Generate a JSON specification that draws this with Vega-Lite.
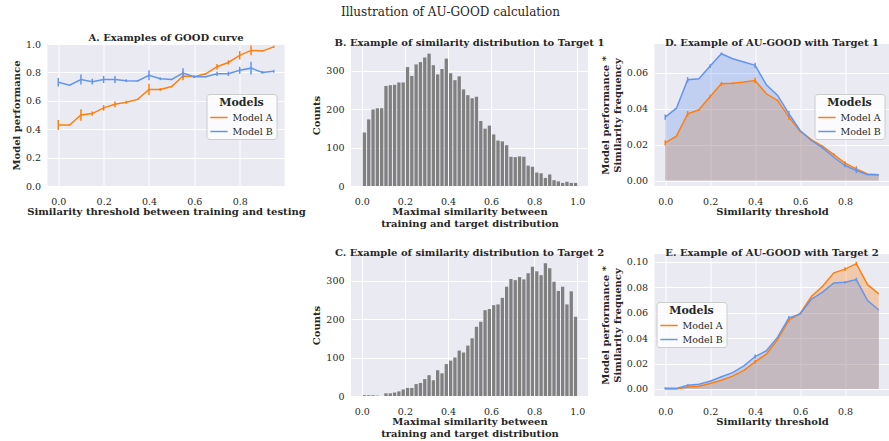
{
  "$schema": "https://vega.github.io/schema/vega-lite/v6.json",
  "padding": {"left": 10.5, "top": 6, "right": 1, "bottom": 0},
  "title": {"text": "Illustration of AU-GOOD calculation", "font": "DejaVu Serif", "fontSize": 12, "fontWeight": "normal", "color": "#262626", "anchor": "middle", "frame": "bounds", "offset": 14},
  "config": {
    "font": "DejaVu Serif",
    "view": {"fill": "#EAEAF2", "stroke": null},
    "axis": {"domain": false, "ticks": false, "grid": true, "gridColor": "#ffffff", "gridWidth": 1, "labelFont": "DejaVu Serif", "labelFontSize": 9.5, "labelColor": "#262626", "titleFont": "DejaVu Serif", "titleFontSize": 10, "titleFontWeight": "bold", "titleColor": "#262626", "titleLineHeight": 12},
    "axisX": {"labelPadding": 10, "titlePadding": 1},
    "axisY": {"labelPadding": 7, "titlePadding": 4},
    "title": {"font": "DejaVu Serif", "fontSize": 10, "fontWeight": "bold", "color": "#262626", "offset": -4},
    "legend": {"titleFont": "DejaVu Serif", "labelFont": "DejaVu Serif", "titleFontSize": 11, "titleFontWeight": "bold", "titleColor": "#262626", "titleAnchor": "middle", "labelFontSize": 9.5, "labelColor": "#262626", "symbolType": "stroke", "symbolStrokeWidth": 1.5, "symbolSize": 300, "fillColor": "rgba(255,255,255,0.8)", "strokeColor": "#cccccc", "cornerRadius": 3, "padding": 3, "rowPadding": -1.5, "titlePadding": 0}
  },
  "datasets": {
    "good": [
      {"x": 0, "m": "Model A", "y": 0.43, "e": 0.035},
      {"x": 0.05, "m": "Model A", "y": 0.43, "e": 0.005},
      {"x": 0.1, "m": "Model A", "y": 0.5, "e": 0.04},
      {"x": 0.15, "m": "Model A", "y": 0.51, "e": 0.015},
      {"x": 0.2, "m": "Model A", "y": 0.55, "e": 0.02},
      {"x": 0.25, "m": "Model A", "y": 0.575, "e": 0.02},
      {"x": 0.3, "m": "Model A", "y": 0.59, "e": 0.01},
      {"x": 0.35, "m": "Model A", "y": 0.61, "e": 0.005},
      {"x": 0.4, "m": "Model A", "y": 0.68, "e": 0.04},
      {"x": 0.45, "m": "Model A", "y": 0.68, "e": 0.01},
      {"x": 0.5, "m": "Model A", "y": 0.7, "e": 0.005},
      {"x": 0.55, "m": "Model A", "y": 0.775, "e": 0.03},
      {"x": 0.6, "m": "Model A", "y": 0.77, "e": 0.005},
      {"x": 0.65, "m": "Model A", "y": 0.79, "e": 0.005},
      {"x": 0.7, "m": "Model A", "y": 0.84, "e": 0.02},
      {"x": 0.75, "m": "Model A", "y": 0.87, "e": 0.015},
      {"x": 0.8, "m": "Model A", "y": 0.92, "e": 0.03},
      {"x": 0.85, "m": "Model A", "y": 0.955, "e": 0.035},
      {"x": 0.9, "m": "Model A", "y": 0.95, "e": 0.005},
      {"x": 0.95, "m": "Model A", "y": 0.98, "e": 0.008},
      {"x": 0, "m": "Model B", "y": 0.73, "e": 0.03},
      {"x": 0.05, "m": "Model B", "y": 0.71, "e": 0.005},
      {"x": 0.1, "m": "Model B", "y": 0.75, "e": 0.035},
      {"x": 0.15, "m": "Model B", "y": 0.735, "e": 0.02},
      {"x": 0.2, "m": "Model B", "y": 0.75, "e": 0.025},
      {"x": 0.25, "m": "Model B", "y": 0.75, "e": 0.025},
      {"x": 0.3, "m": "Model B", "y": 0.742, "e": 0.01},
      {"x": 0.35, "m": "Model B", "y": 0.74, "e": 0.005},
      {"x": 0.4, "m": "Model B", "y": 0.78, "e": 0.035},
      {"x": 0.45, "m": "Model B", "y": 0.755, "e": 0.01},
      {"x": 0.5, "m": "Model B", "y": 0.75, "e": 0.005},
      {"x": 0.55, "m": "Model B", "y": 0.795, "e": 0.035},
      {"x": 0.6, "m": "Model B", "y": 0.77, "e": 0.01},
      {"x": 0.65, "m": "Model B", "y": 0.77, "e": 0.005},
      {"x": 0.7, "m": "Model B", "y": 0.79, "e": 0.015},
      {"x": 0.75, "m": "Model B", "y": 0.79, "e": 0.015},
      {"x": 0.8, "m": "Model B", "y": 0.815, "e": 0.025},
      {"x": 0.85, "m": "Model B", "y": 0.83, "e": 0.045},
      {"x": 0.9, "m": "Model B", "y": 0.8, "e": 0.01},
      {"x": 0.95, "m": "Model B", "y": 0.808, "e": 0.01}
    ],
    "hist1": [
      {"b": 0.00, "b2": 0.02, "n": 139}, {"b": 0.02, "b2": 0.04, "n": 173}, {"b": 0.04, "b2": 0.06, "n": 199}, {"b": 0.06, "b2": 0.08, "n": 202}, {"b": 0.08, "b2": 0.10, "n": 202},
      {"b": 0.10, "b2": 0.12, "n": 260}, {"b": 0.12, "b2": 0.14, "n": 262}, {"b": 0.14, "b2": 0.16, "n": 263}, {"b": 0.16, "b2": 0.18, "n": 269}, {"b": 0.18, "b2": 0.20, "n": 269},
      {"b": 0.20, "b2": 0.22, "n": 309}, {"b": 0.22, "b2": 0.24, "n": 286}, {"b": 0.24, "b2": 0.26, "n": 316}, {"b": 0.26, "b2": 0.28, "n": 322}, {"b": 0.28, "b2": 0.30, "n": 334},
      {"b": 0.30, "b2": 0.32, "n": 344}, {"b": 0.32, "b2": 0.34, "n": 314}, {"b": 0.34, "b2": 0.36, "n": 290}, {"b": 0.36, "b2": 0.38, "n": 304}, {"b": 0.38, "b2": 0.40, "n": 331},
      {"b": 0.40, "b2": 0.42, "n": 293}, {"b": 0.42, "b2": 0.44, "n": 275}, {"b": 0.44, "b2": 0.46, "n": 285}, {"b": 0.46, "b2": 0.48, "n": 251}, {"b": 0.48, "b2": 0.50, "n": 236},
      {"b": 0.50, "b2": 0.52, "n": 228}, {"b": 0.52, "b2": 0.54, "n": 232}, {"b": 0.54, "b2": 0.56, "n": 169}, {"b": 0.56, "b2": 0.58, "n": 149}, {"b": 0.58, "b2": 0.60, "n": 157},
      {"b": 0.60, "b2": 0.62, "n": 134}, {"b": 0.62, "b2": 0.64, "n": 118}, {"b": 0.64, "b2": 0.66, "n": 116}, {"b": 0.66, "b2": 0.68, "n": 106}, {"b": 0.68, "b2": 0.70, "n": 76},
      {"b": 0.70, "b2": 0.72, "n": 75}, {"b": 0.72, "b2": 0.74, "n": 77}, {"b": 0.74, "b2": 0.76, "n": 76}, {"b": 0.76, "b2": 0.78, "n": 53}, {"b": 0.78, "b2": 0.80, "n": 50},
      {"b": 0.80, "b2": 0.82, "n": 35}, {"b": 0.82, "b2": 0.84, "n": 33}, {"b": 0.84, "b2": 0.86, "n": 21}, {"b": 0.86, "b2": 0.88, "n": 30}, {"b": 0.88, "b2": 0.90, "n": 15},
      {"b": 0.90, "b2": 0.92, "n": 12}, {"b": 0.92, "b2": 0.94, "n": 8}, {"b": 0.94, "b2": 0.96, "n": 11}, {"b": 0.96, "b2": 0.98, "n": 8}, {"b": 0.98, "b2": 1.00, "n": 8}
    ],
    "hist2": [
      {"b": 0.00, "b2": 0.02, "n": 2}, {"b": 0.02, "b2": 0.04, "n": 2}, {"b": 0.04, "b2": 0.06, "n": 2}, {"b": 0.06, "b2": 0.08, "n": 1}, {"b": 0.08, "b2": 0.10, "n": 0},
      {"b": 0.10, "b2": 0.12, "n": 7}, {"b": 0.12, "b2": 0.14, "n": 7}, {"b": 0.14, "b2": 0.16, "n": 9}, {"b": 0.16, "b2": 0.18, "n": 12}, {"b": 0.18, "b2": 0.20, "n": 17},
      {"b": 0.20, "b2": 0.22, "n": 21}, {"b": 0.22, "b2": 0.24, "n": 21}, {"b": 0.24, "b2": 0.26, "n": 31}, {"b": 0.26, "b2": 0.28, "n": 34}, {"b": 0.28, "b2": 0.30, "n": 44},
      {"b": 0.30, "b2": 0.32, "n": 54}, {"b": 0.32, "b2": 0.34, "n": 41}, {"b": 0.34, "b2": 0.36, "n": 67}, {"b": 0.36, "b2": 0.38, "n": 59}, {"b": 0.38, "b2": 0.40, "n": 83},
      {"b": 0.40, "b2": 0.42, "n": 92}, {"b": 0.42, "b2": 0.44, "n": 100}, {"b": 0.44, "b2": 0.46, "n": 118}, {"b": 0.46, "b2": 0.48, "n": 113}, {"b": 0.48, "b2": 0.50, "n": 131},
      {"b": 0.50, "b2": 0.52, "n": 150}, {"b": 0.52, "b2": 0.54, "n": 180}, {"b": 0.54, "b2": 0.56, "n": 193}, {"b": 0.56, "b2": 0.58, "n": 223}, {"b": 0.58, "b2": 0.60, "n": 226},
      {"b": 0.60, "b2": 0.62, "n": 236}, {"b": 0.62, "b2": 0.64, "n": 238}, {"b": 0.64, "b2": 0.66, "n": 255}, {"b": 0.66, "b2": 0.68, "n": 284}, {"b": 0.68, "b2": 0.70, "n": 304},
      {"b": 0.70, "b2": 0.72, "n": 301}, {"b": 0.72, "b2": 0.74, "n": 309}, {"b": 0.74, "b2": 0.76, "n": 303}, {"b": 0.76, "b2": 0.78, "n": 319}, {"b": 0.78, "b2": 0.80, "n": 336},
      {"b": 0.80, "b2": 0.82, "n": 324}, {"b": 0.82, "b2": 0.84, "n": 314}, {"b": 0.84, "b2": 0.86, "n": 345}, {"b": 0.86, "b2": 0.88, "n": 332}, {"b": 0.88, "b2": 0.90, "n": 297},
      {"b": 0.90, "b2": 0.92, "n": 273}, {"b": 0.92, "b2": 0.94, "n": 284}, {"b": 0.94, "b2": 0.96, "n": 238}, {"b": 0.96, "b2": 0.98, "n": 272}, {"b": 0.98, "b2": 1.00, "n": 206}
    ],
    "au1": [
      {"x": 0, "m": "Model A", "y": 0.021, "e": 0.0015},
      {"x": 0.05, "m": "Model A", "y": 0.0247, "e": 0},
      {"x": 0.1, "m": "Model A", "y": 0.0372, "e": 0.0015},
      {"x": 0.15, "m": "Model A", "y": 0.0394, "e": 0.0005},
      {"x": 0.2, "m": "Model A", "y": 0.0468, "e": 0.001},
      {"x": 0.25, "m": "Model A", "y": 0.0539, "e": 0.001},
      {"x": 0.3, "m": "Model A", "y": 0.0542, "e": 0.0005},
      {"x": 0.35, "m": "Model A", "y": 0.0548, "e": 0},
      {"x": 0.4, "m": "Model A", "y": 0.0557, "e": 0.0015},
      {"x": 0.45, "m": "Model A", "y": 0.0483, "e": 0},
      {"x": 0.5, "m": "Model A", "y": 0.0446, "e": 0.0005},
      {"x": 0.55, "m": "Model A", "y": 0.0353, "e": 0.0015},
      {"x": 0.6, "m": "Model A", "y": 0.0275, "e": 0},
      {"x": 0.65, "m": "Model A", "y": 0.0228, "e": 0.0003},
      {"x": 0.7, "m": "Model A", "y": 0.0191, "e": 0.0005},
      {"x": 0.75, "m": "Model A", "y": 0.0145, "e": 0.0007},
      {"x": 0.8, "m": "Model A", "y": 0.0097, "e": 0.001},
      {"x": 0.85, "m": "Model A", "y": 0.0065, "e": 0.0015},
      {"x": 0.9, "m": "Model A", "y": 0.0037, "e": 0},
      {"x": 0.95, "m": "Model A", "y": 0.0033, "e": 0},
      {"x": 0, "m": "Model B", "y": 0.0353, "e": 0.0015},
      {"x": 0.05, "m": "Model B", "y": 0.0403, "e": 0},
      {"x": 0.1, "m": "Model B", "y": 0.0561, "e": 0.0015},
      {"x": 0.15, "m": "Model B", "y": 0.0567, "e": 0},
      {"x": 0.2, "m": "Model B", "y": 0.0637, "e": 0.001},
      {"x": 0.25, "m": "Model B", "y": 0.0706, "e": 0.0007},
      {"x": 0.3, "m": "Model B", "y": 0.0678, "e": 0},
      {"x": 0.35, "m": "Model B", "y": 0.066, "e": 0},
      {"x": 0.4, "m": "Model B", "y": 0.0641, "e": 0.0015},
      {"x": 0.45, "m": "Model B", "y": 0.0533, "e": 0},
      {"x": 0.5, "m": "Model B", "y": 0.0474, "e": 0},
      {"x": 0.55, "m": "Model B", "y": 0.0372, "e": 0.0015},
      {"x": 0.6, "m": "Model B", "y": 0.0279, "e": 0},
      {"x": 0.65, "m": "Model B", "y": 0.0223, "e": 0},
      {"x": 0.7, "m": "Model B", "y": 0.0182, "e": 0.0007},
      {"x": 0.75, "m": "Model B", "y": 0.013, "e": 0},
      {"x": 0.8, "m": "Model B", "y": 0.0084, "e": 0.001},
      {"x": 0.85, "m": "Model B", "y": 0.0056, "e": 0.0015},
      {"x": 0.9, "m": "Model B", "y": 0.0033, "e": 0},
      {"x": 0.95, "m": "Model B", "y": 0.0032, "e": 0}
    ],
    "au2": [
      {"x": 0, "m": "Model A", "y": 0.0, "e": 0},
      {"x": 0.05, "m": "Model A", "y": 0.0, "e": 0},
      {"x": 0.1, "m": "Model A", "y": 0.0016, "e": 0.0005},
      {"x": 0.15, "m": "Model A", "y": 0.0021, "e": 0},
      {"x": 0.2, "m": "Model A", "y": 0.0043, "e": 0},
      {"x": 0.25, "m": "Model A", "y": 0.0069, "e": 0},
      {"x": 0.3, "m": "Model A", "y": 0.0101, "e": 0},
      {"x": 0.35, "m": "Model A", "y": 0.0146, "e": 0},
      {"x": 0.4, "m": "Model A", "y": 0.0213, "e": 0.0015},
      {"x": 0.45, "m": "Model A", "y": 0.0274, "e": 0},
      {"x": 0.5, "m": "Model A", "y": 0.0388, "e": 0},
      {"x": 0.55, "m": "Model A", "y": 0.054, "e": 0.0015},
      {"x": 0.6, "m": "Model A", "y": 0.0593, "e": 0},
      {"x": 0.65, "m": "Model A", "y": 0.0726, "e": 0},
      {"x": 0.7, "m": "Model A", "y": 0.0806, "e": 0},
      {"x": 0.75, "m": "Model A", "y": 0.0912, "e": 0},
      {"x": 0.8, "m": "Model A", "y": 0.0941, "e": 0.0015},
      {"x": 0.85, "m": "Model A", "y": 0.0984, "e": 0.0015},
      {"x": 0.9, "m": "Model A", "y": 0.0819, "e": 0},
      {"x": 0.95, "m": "Model A", "y": 0.0747, "e": 0},
      {"x": 0, "m": "Model B", "y": 0.0005, "e": 0.0008},
      {"x": 0.05, "m": "Model B", "y": 0.0005, "e": 0},
      {"x": 0.1, "m": "Model B", "y": 0.0029, "e": 0.0008},
      {"x": 0.15, "m": "Model B", "y": 0.0037, "e": 0},
      {"x": 0.2, "m": "Model B", "y": 0.0061, "e": 0.0005},
      {"x": 0.25, "m": "Model B", "y": 0.0096, "e": 0.0005},
      {"x": 0.3, "m": "Model B", "y": 0.0128, "e": 0},
      {"x": 0.35, "m": "Model B", "y": 0.0181, "e": 0},
      {"x": 0.4, "m": "Model B", "y": 0.0255, "e": 0.0015},
      {"x": 0.45, "m": "Model B", "y": 0.03, "e": 0},
      {"x": 0.5, "m": "Model B", "y": 0.0407, "e": 0},
      {"x": 0.55, "m": "Model B", "y": 0.0559, "e": 0.0015},
      {"x": 0.6, "m": "Model B", "y": 0.0588, "e": 0},
      {"x": 0.65, "m": "Model B", "y": 0.0705, "e": 0},
      {"x": 0.7, "m": "Model B", "y": 0.0761, "e": 0},
      {"x": 0.75, "m": "Model B", "y": 0.0832, "e": 0},
      {"x": 0.8, "m": "Model B", "y": 0.0838, "e": 0.001},
      {"x": 0.85, "m": "Model B", "y": 0.0859, "e": 0.0015},
      {"x": 0.9, "m": "Model B", "y": 0.0694, "e": 0},
      {"x": 0.95, "m": "Model B", "y": 0.062, "e": 0}
    ]
  },
  "bounds": "flush",
  "columns": 3,
  "spacing": {"row": 68, "column": 66.5},
  "resolve": {"scale": {"color": "independent"}, "legend": {"color": "independent"}},
  "concat": [
    {
      "width": 237, "height": 142,
      "title": "A. Examples of GOOD curve",
      "data": {"name": "good"},
      "encoding": {
        "x": {"field": "x", "type": "quantitative", "scale": {"domain": [-0.0475, 0.9975], "nice": false, "zero": false}, "axis": {"values": [0, 0.2, 0.4, 0.6, 0.8], "format": ".1f", "title": "Similarity threshold between training and testing"}},
        "y": {"field": "y", "type": "quantitative", "scale": {"domain": [0, 1], "nice": false}, "axis": {"values": [0, 0.2, 0.4, 0.6, 0.8, 1.0], "format": ".1f", "title": "Model performance"}},
        "color": {"field": "m", "type": "nominal", "scale": {"domain": ["Model A", "Model B"], "range": ["#ff7f0e", "#6495ed"]}, "legend": {"title": "Models", "orient": "none", "legendX": 159, "legendY": 50}}
      },
      "layer": [
        {"mark": {"type": "line", "strokeWidth": 1.5}},
        {"mark": {"type": "errorbar", "thickness": 1.5}, "encoding": {"yError": {"field": "e"}}}
      ]
    },
    {
      "width": 237, "height": 142,
      "title": "B. Example of similarity distribution to Target 1",
      "data": {"name": "hist1"},
      "mark": {"type": "bar", "color": "#808080", "binSpacing": 1},
      "encoding": {
        "x": {"field": "b", "type": "quantitative", "bin": "binned", "scale": {"domain": [-0.05, 1.05], "nice": false, "zero": false}, "axis": {"values": [0, 0.2, 0.4, 0.6, 0.8, 1.0], "format": ".1f", "formatType": "number", "title": ["Maximal similarity between", "training and target distribution"]}},
        "x2": {"field": "b2"},
        "y": {"field": "n", "type": "quantitative", "scale": {"domain": [0, 369], "nice": false}, "axis": {"values": [0, 100, 200, 300], "title": "Counts"}}
      }
    },
    {
      "width": 235, "height": 142,
      "title": "D. Example of AU-GOOD with Target 1",
      "data": {"name": "au1"},
      "encoding": {
        "x": {"field": "x", "type": "quantitative", "scale": {"domain": [-0.0475, 0.9975], "nice": false, "zero": false}, "axis": {"values": [0, 0.2, 0.4, 0.6, 0.8], "format": ".1f", "title": "Similarity threshold"}},
        "y": {"field": "y", "type": "quantitative", "stack": null, "scale": {"domain": [-0.003, 0.076], "nice": false, "zero": false}, "axis": {"values": [0, 0.02, 0.04, 0.06], "format": ".2f", "title": ["Model performance *", "Similarity frequency"]}}
      },
      "layer": [
        {"transform": [{"filter": "datum.m == 'Model A'"}], "mark": {"type": "area", "color": "#ff7f0e", "fillOpacity": 0.3}},
        {"transform": [{"filter": "datum.m == 'Model B'"}], "mark": {"type": "area", "color": "#6495ed", "fillOpacity": 0.3}},
        {"mark": {"type": "line", "strokeWidth": 1.5}, "encoding": {"color": {"field": "m", "type": "nominal", "scale": {"domain": ["Model A", "Model B"], "range": ["#ff7f0e", "#6495ed"]}, "legend": {"title": "Models", "orient": "none", "legendX": 160, "legendY": 50}}}},
        {"mark": {"type": "errorbar", "thickness": 1.5}, "encoding": {"yError": {"field": "e"}, "color": {"field": "m", "type": "nominal"}}}
      ]
    },
    {
      "width": 237, "height": 142,
      "data": {"values": [{"k": 1}]},
      "view": {"fill": null, "stroke": null},
      "mark": {"type": "point", "opacity": 0},
      "encoding": {}
    },
    {
      "width": 237, "height": 142,
      "title": "C. Example of similarity distribution to Target 2",
      "data": {"name": "hist2"},
      "mark": {"type": "bar", "color": "#808080", "binSpacing": 1},
      "encoding": {
        "x": {"field": "b", "type": "quantitative", "bin": "binned", "scale": {"domain": [-0.05, 1.05], "nice": false, "zero": false}, "axis": {"values": [0, 0.2, 0.4, 0.6, 0.8, 1.0], "format": ".1f", "formatType": "number", "title": ["Maximal similarity between", "training and target distribution"]}},
        "x2": {"field": "b2"},
        "y": {"field": "n", "type": "quantitative", "scale": {"domain": [0, 369], "nice": false}, "axis": {"values": [0, 100, 200, 300], "title": "Counts"}}
      }
    },
    {
      "width": 235, "height": 142,
      "title": "E. Example of AU-GOOD with Target 2",
      "data": {"name": "au2"},
      "encoding": {
        "x": {"field": "x", "type": "quantitative", "scale": {"domain": [-0.0475, 0.9975], "nice": false, "zero": false}, "axis": {"values": [0, 0.2, 0.4, 0.6, 0.8], "format": ".1f", "title": "Similarity threshold"}},
        "y": {"field": "y", "type": "quantitative", "stack": null, "scale": {"domain": [-0.0055, 0.106], "nice": false, "zero": false}, "axis": {"values": [0, 0.02, 0.04, 0.06, 0.08, 0.1], "format": ".2f", "title": ["Model performance *", "Similarity frequency"]}}
      },
      "layer": [
        {"transform": [{"filter": "datum.m == 'Model A'"}], "mark": {"type": "area", "color": "#ff7f0e", "fillOpacity": 0.3}},
        {"transform": [{"filter": "datum.m == 'Model B'"}], "mark": {"type": "area", "color": "#6495ed", "fillOpacity": 0.3}},
        {"mark": {"type": "line", "strokeWidth": 1.5}, "encoding": {"color": {"field": "m", "type": "nominal", "scale": {"domain": ["Model A", "Model B"], "range": ["#ff7f0e", "#6495ed"]}, "legend": {"title": "Models", "orient": "none", "legendX": 2, "legendY": 48}}}},
        {"mark": {"type": "errorbar", "thickness": 1.5}, "encoding": {"yError": {"field": "e"}, "color": {"field": "m", "type": "nominal"}}}
      ]
    }
  ]
}
